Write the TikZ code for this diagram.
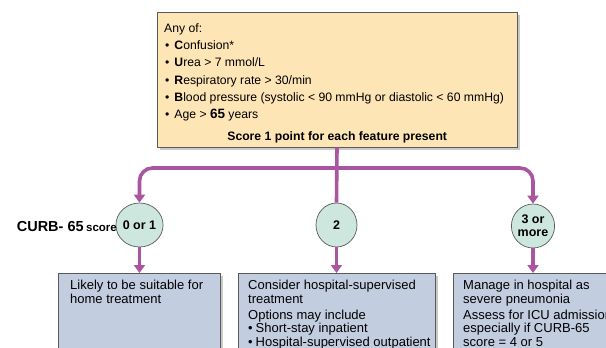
\documentclass[tikz,border=0pt]{standalone}
\usepackage{fontspec}
\setmainfont{Liberation Sans}
\usetikzlibrary{arrows.meta,shadows,shapes.geometric}
\definecolor{topfill}{HTML}{FDE5B6}
\definecolor{connc}{HTML}{AA55A0}
\definecolor{circfill}{HTML}{CDE6DE}
\definecolor{boxfill}{HTML}{C3CDE0}
\definecolor{edgec}{HTML}{5A5A5A}
\begin{document}
\begin{tikzpicture}[x=1pt,y=-1pt,
  shadowed/.style={drop shadow={shadow xshift=2.5pt,shadow yshift=-2.5pt,opacity=0.35,fill=black!60}},
  topbox/.style={draw=edgec,line width=0.8pt,fill=topfill,shadowed,minimum width=360pt,minimum height=135pt,inner sep=0pt},
  outbox/.style={draw=edgec,line width=0.8pt,fill=boxfill,shadowed,anchor=north west,inner sep=0pt,minimum height=90pt},
  score/.style={ellipse,draw=edgec,line width=0.7pt,fill=circfill,minimum width=41pt,minimum height=44pt,inner sep=0pt,align=center,font=\fontsize{12.5}{13}\selectfont\bfseries},
  connline/.style={draw=connc,line width=3.6pt},
  tip/.tip={Triangle[width=11pt,length=8pt]},
  txt/.style={anchor=base west,inner sep=0pt,align=left}
]
\clip (0,0) rectangle (606,348);
\fill[white] (0,0) rectangle (606,348);

% top box
\node[topbox] (top) at (337,79.5) {};
\node[txt] (toptext) at (164,32.5) {\begin{minipage}[t]{346pt}\fontsize{12.2}{17.2}\selectfont
Any of:\\
\hspace*{1pt}•\hspace{5pt}\textbf{C}onfusion*\\
\hspace*{1pt}•\hspace{5pt}\textbf{U}rea > 7 mmol/L\\
\hspace*{1pt}•\hspace{5pt}\textbf{R}espiratory rate > 30/min\\
\hspace*{1pt}•\hspace{5pt}\textbf{B}lood pressure (systolic < 90 mmHg or diastolic < 60 mmHg)\\
\hspace*{1pt}•\hspace{5pt}Age > {\fontsize{13.5}{14}\selectfont\textbf{65}} years\\[4.8pt]
\makebox[346pt]{\textbf{Score 1 point for each feature present}}
\end{minipage}};

% score circles
\node[score] (c0) at (139.5,225) {0 or 1};
\node[score] (c2) at (336.5,225) {2};
\node[score] (c3) at (533,226) {3 or\\more};
\node[anchor=east,inner sep=0pt] (curb) at (117,226.5) {\fontsize{14.5}{15}\selectfont\bfseries CURB- 65\,{\fontsize{11.5}{12}\selectfont score}};

% outcome boxes
\node[outbox,minimum width=162pt] (b0) at (58,273) {};
\node[outbox,minimum width=197pt] (b2) at (238,273) {};
\node[outbox,minimum width=180pt] (b3) at (453,273) {};

\node[txt] (t0) at (70,289.5) {\begin{minipage}[t]{150pt}\fontsize{13}{13.5}\selectfont
Likely to be suitable for\\home treatment\end{minipage}};
\node[txt] (t2) at (248,289.5) {\begin{minipage}[t]{190pt}\fontsize{13}{13.5}\selectfont
Consider hospital-supervised\\treatment\\[2.5pt]
Options may include\\
•\hspace{3pt}Short-stay inpatient\\
•\hspace{3pt}Hospital-supervised outpatient\end{minipage}};
\node[txt] (t3) at (463,289.5) {\begin{minipage}[t]{190pt}\fontsize{13}{13.5}\selectfont
Manage in hospital as\\severe pneumonia\\[2.5pt]
Assess for ICU admission\\
especially if CURB-65\\
score = 4 or 5\end{minipage}};

% connectors
\coordinate (bar) at (0,168);
\draw[connline] (top.south) -- (c2.north);
\draw[connline,{tip}-{tip},rounded corners=13pt] (c0.north) -- (c0.north |- bar) -- (c3.north |- bar) -- (c3.north);
\draw[connline,-{tip}] (c0.south) -- (c0.south |- b0.north);
\draw[connline,-{tip}] (c2.south) -- (c2.south |- b2.north);
\draw[connline,-{tip}] (c3.south) -- (c3.south |- b3.north);
\end{tikzpicture}
\end{document}
